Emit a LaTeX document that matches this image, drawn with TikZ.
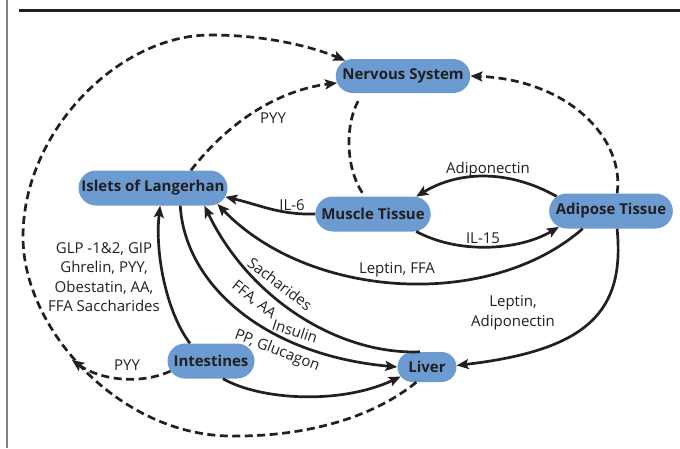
\documentclass[tikz,border=0pt]{standalone}
\usepackage{fontspec}
\setmainfont{Open Sans}
\usetikzlibrary{arrows.meta,shapes.misc}
\definecolor{organblue}{RGB}{108,155,210}
\definecolor{inkgray}{RGB}{35,31,32}

\begin{document}
\begin{tikzpicture}[x=1pt,y=-1pt,
  organ/.style={rounded rectangle, fill=organblue, text=inkgray, inner xsep=5pt,
    font=\bfseries\fontsize{15}{18}\selectfont, minimum height=35pt},
  link/.style={line width=2.7pt, draw=inkgray},
  nerve/.style={link, dash pattern=on 8pt off 4.5pt},
  lbl/.style={text=inkgray, inner sep=1pt, font=\fontsize{15}{19.5}\selectfont},
  >={Stealth[length=12pt,width=10pt,inset=2.5pt]}]
		\useasboundingbox (0,0) rectangle (680,448);
		\draw[gray, line width=1.5pt] (7,0) -- (7,448);
		\draw[inkgray, line width=3pt] (19,10) -- (680,10);
		
		\node[organ, minimum width=125pt, minimum height=34pt] (ns) at (403,76) {Nervous System};
		\node[organ, minimum width=159pt] (isl) at (153,188) {Islets of Langerhan};
		\node[organ, minimum width=113pt] (mus) at (373,214) {Muscle Tissue};
		\node[organ, minimum width=120pt] (adi) at (611,211) {Adipose Tissue};
		\node[organ, minimum width=97pt] (int) at (211,361) {Intestines};
		\node[organ, minimum width=69pt, minimum height=30pt] (liv) at (427,367) {Liver};
		\coordinate (pyyend) at (72,360);
		
		\draw[nerve,->] (liv.-125) .. controls (370,420) and (300,437) .. (230,436)
		.. controls (120,435) and (23,330) .. (23,237)
		.. controls (23,130) and (120,35) .. (210,35)
		.. controls (270,35) and (315,48) .. (ns.165);
		\draw[nerve,->] (isl.25) .. controls (230,120) and (280,90) .. (ns.186);
		\draw[nerve, shorten <=9pt] (ns.-157) .. controls (345,125) and (345,170) .. (mus.115);
		\draw[nerve,->] (adi.71) .. controls (625,140) and (570,80) .. (ns.0);
		\draw[nerve,->] (int.194) .. controls (140,385) and (100,380) .. (pyyend);
		
		\draw[link,->] (mus.180) .. controls (280,215) and (260,205) .. (isl.-7);
		\draw[link,->] (adi.165) .. controls (510,170) and (460,170) .. (mus.22);
		\draw[link,->] (mus.-22) .. controls (460,255) and (520,250) .. (adi.197);
		\draw[link,->] (adi.-148) .. controls (490,310) and (310,300) .. (isl.-14);
		\draw[link,->] (adi.-71) .. controls (625,310) and (590,350) .. (liv.3);
		\draw[link,->] (liv.115) .. controls (340,355) and (250,300) .. (isl.-19);
		\draw[link,->] (isl.-33) .. controls (185,285) and (265,355) .. (liv.180);
		\draw[link,->] (int.140) .. controls (165,310) and (155,250) .. (isl.-68);
		\draw[link,->] (int.-56) .. controls (260,400) and (340,405) .. (liv.200);
		
		\node[lbl] (l-pyy) at (273,118) {PYY};
		\node[lbl] (l-il6) at (292,205) {IL-6};
		\node[lbl] (l-adipo) at (488,170) {Adiponectin};
		\node[lbl] (l-il15) at (483,238) {IL-15};
		\node[lbl] (l-lepffa) at (397,270) {Leptin, FFA};
		\node[lbl, align=center] (l-lepadi) at (513,313) {Leptin,\\Adiponectin};
		\node[lbl, align=center] (l-glp) at (104,277) {GLP -1\&2, GIP\\Ghrelin, PYY,\\Obestatin, AA,\\FFA Saccharides};
		\node[lbl, rotate=-37] (l-sach) at (280,284) {Sacharides};
		\node[lbl, rotate=-38] (l-ffa) at (254,300) {FFA, AA};
		\node[lbl, rotate=-18] (l-ins) at (295,331) {Insulin};
		\node[lbl, rotate=-21] (l-pp) at (277,351) {PP, Glucagon};
		\node[lbl] (l-pyy2) at (127,365) {PYY};
	\end{tikzpicture}
\end{document}
